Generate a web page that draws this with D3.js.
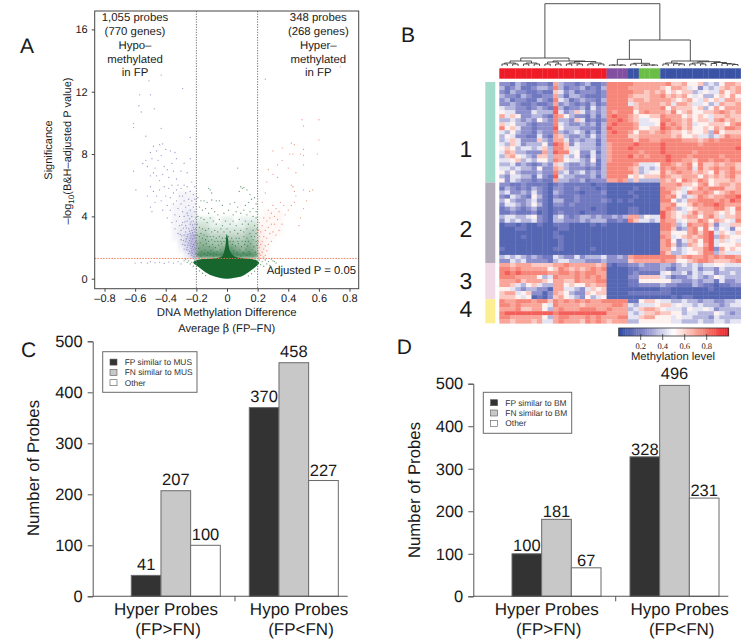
<!DOCTYPE html>
<html><head><meta charset="utf-8">
<script src="https://cdn.jsdelivr.net/npm/d3@7/dist/d3.min.js"></script>
<style>
html,body{margin:0;padding:0;background:#fff}
svg{display:block;font-family:"Liberation Sans",Arial,sans-serif;text-rendering:geometricPrecision}
text{fill:#1a1a1a}
</style></head><body>
<svg id="c" width="747" height="642"></svg>
<script>
// ---- Panel A data (x = delta beta, y = -log10 adj P)
const xTicksA=[-0.8,-0.6,-0.4,-0.2,0,0.2,0.4,0.6,0.8];
const yTicksA=[0,4,8,12,16];
const bluePts=[[-.61,9.97],[-.61,9.7],[-.57,11.8],[-.5,11.8],[-.575,11.1],[-.56,10.7],[-.51,12.7],[-.43,13.07],[-.29,12.2],[-.475,10.9],[-.43,9.65],[-.53,9.15],[-.24,9.07],[-.61,6.9],[-.595,5.7],
[-.48,8.5],[-.46,8.2],[-.44,8.6],[-.42,8.65],[-.5,8.1],[-.53,7.6],[-.52,7.2],[-.55,7.4],[-.49,7.7],[-.47,7.1],[-.45,7.6],[-.43,7.9],[-.4,8.3],[-.37,8.2],[-.34,8.1],[-.33,7.7],[-.36,7.4],[-.39,7],[-.41,7.2],[-.48,6.8],[-.5,6.6],[-.46,6.6],[-.44,6.3],[-.42,6.7],[-.38,6.5],[-.35,6.9],[-.33,6.4],[-.3,6.9],[-.28,7.4],[-.26,6.8],[-.24,7.7],[-.52,5.3],[-.5,5.9],[-.48,5.6],[-.5,4.6],[-.49,4.3],[-.47,4.9],[-.46,5.3],[-.44,5.7],[-.43,5],[-.42,4.4],[-.41,5.9],[-.4,5.3],[-.39,4.7],[-.39,3.9],[-.38,5.8],[-.37,4.4],[-.37,5.2],[-.36,3.6],[-.36,6],[-.35,4.8],[-.35,5.5],[-.34,3.2],[-.34,4.1],[-.33,5.7],[-.33,5],[-.33,3.7],[-.32,6],[-.32,4.5],[-.32,2.9],[-.31,5.3],[-.31,3.4],[-.31,4],[-.3,5.8],[-.3,4.8],[-.3,2.5],[-.3,3.1],[-.29,4.3],[-.29,5.3],[-.29,3.6],[-.29,2.2],[-.28,6],[-.28,5],[-.28,4],[-.28,2.8],[-.28,1.9],[-.27,5.5],[-.27,4.6],[-.27,3.4],[-.27,2.4],[-.27,3],[-.26,5.9],[-.26,4.2],[-.26,3.7],[-.26,2],[-.26,2.7],[-.25,5.1],[-.25,4.7],[-.25,3.2],[-.25,2.3],[-.25,1.6],[-.24,5.6],[-.24,4.4],[-.24,3.5],[-.24,2.9],[-.24,2.1],[-.24,2.6],[-.23,6.2],[-.23,5],[-.23,4],[-.23,3.1],[-.23,2.4],[-.23,1.8],[-.23,1.5],[-.22,5.4],[-.22,4.6],[-.22,3.7],[-.22,3.3],[-.22,2.8],[-.22,2.2],[-.22,1.9],[-.22,1.4],[-.21,5.9],[-.21,5.1],[-.21,4.3],[-.21,3.5],[-.21,3],[-.21,2.6],[-.21,2.3],[-.21,2],[-.21,1.7],[-.21,1.4],[-.205,4.8],[-.205,3.9],[-.205,3.2],[-.205,2.8],[-.205,2.4],[-.205,1.9],[-.205,1.6],
[-.215,3.15],[-.225,2.95],[-.235,2.75],[-.245,3.05],[-.255,2.85],[-.215,2.75],[-.225,2.55],[-.235,2.25],[-.245,2.45],[-.255,2.15],[-.265,2.55],[-.215,2.15],[-.225,2.05],[-.235,1.95],[-.245,1.75],[-.215,1.85],[-.225,1.65],[-.215,1.55],[-.235,1.65],[-.255,1.85],[-.265,1.85],[-.275,2.15],[-.285,2.45],[-.295,2.75],[-.305,2.85],[-.225,3.45],[-.235,3.65],[-.245,3.85],[-.255,4.05],[-.265,3.25],[-.275,3.65],[-.285,3.25],[-.295,3.45],
[-.6,1.0],[-.56,1.03],[-.52,1],[-.5,1.1],[-.47,1.02],[-.44,1.05],[-.41,.98],[-.38,1.07],[-.35,1],[-.32,1.1],[-.3,.95]];
const redPts=[[.74,13.6],[.25,12.8],[.49,10.2],[.5,9.8],[.6,10.2],[.6,8.9],[.42,8.7],[.44,8.6],[.36,8.4],[.5,8.3],[.3,8.2],[.41,8],[.43,8],[.48,8],[.5,7.9],[.59,8],[.36,7.6],[.33,7.3],[.27,7],[.5,7.3],[.4,7.1],[.45,6.8],[.3,6.7],[.33,6.5],[.26,6.2],[.42,6],[.43,5.9],[.44,5.6],[.45,5.3],[.56,5.7],[.54,5.6],[.5,5.7],[.52,5],[.5,4.5],[.48,3.9],[.47,3.4],[.44,4.9],[.42,4.7],[.4,4.4],[.38,4.1],[.37,4.7],[.36,3.5],[.35,4.9],[.34,4.3],[.34,3.1],[.33,3.8],[.32,4.5],[.32,2.8],[.31,3.5],[.31,4],[.3,4.7],[.3,3],[.29,4.2],[.29,3.5],[.29,2.4],[.28,3.9],[.28,2.9],[.27,4.4],[.27,3.3],[.27,2.2],[.26,3.7],[.26,2.6],[.26,1.8],[.25,5.5],[.25,3.1],[.25,2.1],[.25,1.5],[.24,3.9],[.24,2.7],[.24,1.9],[.24,1.4],[.23,4.9],[.23,3.4],[.23,2.4],[.23,1.7],[.22,3],[.22,2.2],[.22,1.5],[.21,3.6],[.21,2.7],[.21,2],[.21,1.6],[.21,1.35],[.205,3.1],[.205,2.4]];
const greenPts=[[.07,7.1],[-.12,5.8],[-.11,5.7],[-.1,5.5],[.09,5.9],[.1,5.8],[.11,5.85],[.13,5.7],[.15,5.4],[.08,5.6],[.16,5.1],[.18,5.2],[.19,4.8],[-.19,5.2],[-.17,5],[-.15,5],[-.13,4.9],[-.1,5.05],[-.07,5],[-.05,5],[-.03,4.7],[.02,4.8],[.05,4.9],[.07,4.6],[.12,4.7],[.14,4.9],[.17,4.5],[.19,4.3],[-.18,4.6],[-.16,4.4],[-.14,4.5],[-.12,4.2],[-.1,4.5],[-.08,4.3],[-.06,4.1],[-.02,4.2],[.01,4.4],[.04,4.1],[.06,4.3],[.09,4.2],[.11,4.4],[.13,4.1],[.15,4.3],[.17,4],[.19,3.9],[-.19,4],[-.17,3.9],[-.15,3.8],[-.13,3.6],[-.11,3.9],[-.09,3.7],[-.07,3.5],[-.05,3.8],[-.03,3.4],[-.01,3.7],[.02,3.5],[.04,3.7],[.06,3.4],[.08,3.8],[.1,3.5],[.12,3.7],[.14,3.5],[.16,3.7],[.18,3.4],[.195,3.2],[-.195,3.5],[-.18,3.3],[-.16,3.2],[-.14,3.1],[-.12,3.2],[-.1,3],[-.08,3.1],[-.06,3],[-.04,3.2],[-.02,3],[0,3.2],[.02,3],[.05,3.1],[.07,2.9],[.09,3.1],[.11,3],[.13,3.2],[.15,2.9],[.17,3.1],[.19,2.9],
[-.195,2.8],[-.18,2.7],[-.17,2.9],[-.16,2.6],[-.15,2.8],[-.14,2.5],[-.13,2.7],[-.12,2.4],[-.11,2.7],[-.1,2.5],[-.09,2.7],[-.08,2.4],[-.07,2.6],[-.06,2.4],[-.05,2.7],[-.04,2.4],[-.03,2.6],[-.02,2.4],[-.01,2.6],[.01,2.7],[.02,2.4],[.03,2.6],[.04,2.4],[.06,2.6],[.07,2.4],[.08,2.6],[.1,2.4],[.11,2.7],[.12,2.4],[.13,2.6],[.14,2.4],[.16,2.7],[.17,2.5],[.18,2.7],[.19,2.4],
[-.195,2.25],[-.185,1.95],[-.175,2.3],[-.165,1.75],[-.155,2.15],[-.145,1.85],[-.135,2.25],[-.125,1.7],[-.115,2.05],[-.105,1.8],[-.095,2.2],[-.085,1.65],[-.075,2],[-.065,1.75],[-.055,2.15],[-.045,1.85],[-.035,2.25],[.035,2.2],[.045,1.8],[.055,2.1],[.065,1.7],[.075,2.25],[.085,1.85],[.095,2.05],[.105,1.7],[.115,2.2],[.125,1.9],[.135,2.1],[.145,1.75],[.155,2.25],[.165,1.85],[.175,2.05],[.185,1.7],[.195,2.15],
[-.19,1.55],[-.17,1.45],[-.15,1.6],[-.13,1.5],[-.11,1.6],[-.09,1.45],[-.07,1.55],[.07,1.55],[.09,1.45],[.11,1.6],[.13,1.5],[.15,1.6],[.17,1.45],[.19,1.55],
[-.27,1.25],[-.25,1.15],[-.24,.95],[-.23,1.05],[-.22,.8],[-.21,1.2],[-.26,1.05],[-.28,1.15],[-.2,.65],[-.18,.5],[-.16,.35],[-.14,.2],[.21,1.2],[.22,.9],[.23,1.1],[.24,.8],[.25,1.2],[.26,.95],[.27,1.1],[.28,.85],[.3,1.15],[.32,1.0],[.2,.62],[.18,.48],[.16,.32],[.14,.18],[.29,1.25],[.31,1.1]];
const greenBlob=[[-.19,1.22],[-.22,1.05],[-.19,.78],[-.15,.48],[-.1,.2],[-.05,.06],[0,0],[.05,.06],[.1,.18],[.14,.42],[.18,.7],[.21,1.0],[.19,1.2],[.12,1.3],[.05,1.42],[.018,1.8],[.006,2.6],[-.002,2.85],[-.012,2.0],[-.035,1.42],[-.1,1.3]];
const greenGrid=["1110110111","2211111122","3322222233","4433333343","5544454454","6665676565","8888898887"];
const blueGrid=["00111","00111","01111","01122","01122","01123","01224","01246","00246","00136","00025"];
const redGrid=["01110","11110","11110","21110","21100","31000","31000","31000"];
// ---- Panel B data: digit d = methylation level bin, rows top to bottom, columns left to right
const heatRows=[
"22132112217322123112 8888 87 7777 786675563435776","31231123328312231213 8888 77 7777 657764524346767","21322112116423122212 8888 87 7676 756566345447567","32213211227313321112 8888 76 6677 867675453356575","23122113218431232213 8888 67 7677 776567546564776",
"22321121127232121312 8888 46 7777 674776445347667","43322123219312231423 8888 86 7777 857666563575777","54422243339423642323 8788 85 7877 768567556678767","74652233218753221313 8988 76 5566 877756565466766","33432325328332641212 8898 76 4455 887767566478676",
"64533212228432232313 8988 87 4445 978767455666578","85642212229533322213 9888 87 5566 987867556576887","43532213228323431313 8988 75 7767 876656556385666","35422114217632232423 8888 66 7777 776755644346877","34642226327742323313 8888 86 8877 888877767878888",
"43642333529862433313 7888 89 8888 988888878888888","56534434638864433323 7888 98 8888 988888888888889","47633222739884522413 7888 88 7888 988888788888888","36754326637743521423 7888 97 8788 898887888887888","44563435538754432513 7888 88 8888 898877688788788",
"33423212326432232313 8888 87 4445 887678586676776","44343325227632221213 8888 76 3434 878778486787786","53532223228342342323 8888 86 3455 867877676586787","32443314219433222313 8888 56 5666 876677757676786","52432212117332231222 7787 36 3333 767587687566676",
"22112111101211111011 0000 00 0000 777866578567767","13212132102211211101 0000 01 0000 877645687888667","34223242103211101112 0000 10 0000 886548778756787","21432153102111211111 0000 01 0000 878534687677889","35322342103311211112 1010 10 0000 885347788878798",
"24432353102212111111 0000 00 0000 778556878898777","12321231101111111011 0000 11 0000 787345677788658","11211120101211101111 0000 11 0000 976546867765657","34433452103421233232 2323 77 3544 976567757864667","24343342103322232333 1121 86 4434 877456687576548",
"01101001001110000101 0000 00 0000 887348778624466","00011000000110000000 0000 00 0000 886237858535425","00000000001000000000 0000 00 0000 775557868946546","00001000001100000000 0000 00 0000 874567678937655","00000000000100000000 0000 00 0000 785246758946454",
"00000000000100000000 0000 00 0000 786237657945556","10000000001100000100 0000 00 0000 775345668927565","00000000000000000000 0000 00 0000 863345568836444","34343232114322423334 2232 78 8888 888678778787887","22434222213443332223 2222 67 7777 877556788766678",
"77677766667787777767 1011 22 3222 332343434455444","88787777756876767878 0000 11 2222 321333423324333","89898888877887878877 0000 12 1111 453342434423343","88877775348777878787 0000 22 6666 431223432354333","77786777657766877788 0000 11 5555 553322323314223",
"77643564337756557677 0000 11 2222 322111321101122","55432332207744324656 0000 00 0000 110000000100000","67745622027653226566 0000 11 1111 110000000000000","66654501026754325345 0000 00 0000 001011000000000",
"87788878868787878778 8888 11 5665 443343323322334","88787777548777767777 7887 43 4445 664544343332344","77786677537877788877 8777 34 6776 544435445423333","89999999998999999999 7777 43 4667 665534433354323","88777777537887778787 7788 44 6775 554544333243333","77677767447877768787 6777 33 5555 554433343344344"];
const levelBins=[.1,.17,.25,.34,.44,.53,.62,.7,.77,.85];
const colGroupCounts=[20,4,2,4,15];
const rowClusterCounts=[25,20,9,6];
const rowClusterNames=["1","2","3","4"];
const dendro=[62.3,
 [8,[5,[3,[2,0,1],[2,2,3]],[3,[2,4,5],[2,6,7]]],[5,[4,[2,8,9],[2,10,11]],[4.5,[3,[2,12,13],[2,14,15]],[3,[2,16,17],[2,18,19]]]]],
 [26,[6.7,[1,[1,20,21],[1,22,23]],[2.7,[2,24,25],[1,[1,26,27],[1,28,29]]]],
  [5,[3,[2,30,31],[2.3,32,[2,33,34]]],[4.3,[3,[2,35,36],[2,37,38]],[3.5,[2.5,39,40],[2.5,41,[2,42,[1.5,43,44]]]]]]]];
const colorbarTicks=[0.2,0.4,0.6,0.8];
// ---- Panels C, D data
const groupNames=["Hyper Probes","Hypo Probes"];
const groupSubs=["(FP>FN)","(FP<FN)"];
const mus=[[41,207,100],[370,458,227]];
const bm=[[100,181,67],[328,496,231]];
const legendC=["FP similar to MUS","FN similar to MUS","Other"];
const legendD=["FP similar to BM","FN similar to BM","Other"];
const barTicks=[0,100,200,300,400,500];

const svg=d3.select("#c");
const defs=svg.append("defs");
defs.append("filter").attr("id","soft").attr("x","-10%").attr("y","-10%").attr("width","120%").attr("height","120%").append("feGaussianBlur").attr("stdDeviation",1.6);
defs.append("filter").attr("id","img").append("feGaussianBlur").attr("stdDeviation",0.45);
const t=(x,y,s,size,anchor)=>svg.append("text").attr("x",x).attr("y",y).attr("font-size",size).attr("text-anchor",anchor||"start").text(s);
const DASH="\u2013";

// ---------- Panel letters
[["A",20,53],["B",401,41.7],["C",21,356.7],["D",396.7,354.3]].forEach(d=>t(d[1],d[2],d[0],21));

// ---------- Panel A
const xA=d3.scaleLinear().domain([-0.8,0.8]).range([104.5,349.5]);
const yA=d3.scaleLinear().domain([0,16]).range([278.7,29.4]);
const A=svg.append("g");
const box={l:94.7,r:358.7,t:11,b:288.7};
function grid(rows,x0,dx,y0top,dy,color,k){
  const g=A.append("g").attr("filter","url(#soft)");
  rows.forEach((r,i)=>r.split("").forEach((c,j)=>{
    if(+c>0) g.append("rect").attr("x",xA(x0+j*dx)).attr("width",xA(dx)-xA(0)+.2)
      .attr("y",yA(y0top-i*dy)).attr("height",yA(0)-yA(dy)+.2).attr("fill",color).attr("opacity",+c*k);
  }));
}
grid(greenGrid,-0.2,0.04,4.0,0.38,"#1d6a35",0.095);
grid(blueGrid,-0.4,0.04,5.6,0.39,"#5d5bab",0.065);
grid(redGrid,0.2,0.04,4.4,0.39,"#ee7055",0.05);
A.append("path").attr("d",d3.line().x(d=>xA(d[0])).y(d=>yA(d[1])).curve(d3.curveCatmullRomClosed)(greenBlob)).attr("fill","#12662f").attr("filter","url(#img)");
const pts=(data,color,op)=>A.append("g").selectAll("circle").data(data).join("circle").attr("cx",d=>xA(d[0])).attr("cy",d=>yA(d[1])).attr("r",0.65).attr("fill",color).attr("opacity",op);
pts(bluePts,"#6461ae",.65);pts(redPts,"#ee6a4c",.7);pts(greenPts,"#256f3c",.7);
[-0.2,0.2].forEach(v=>A.append("line").attr("x1",xA(v)).attr("x2",xA(v)).attr("y1",box.t).attr("y2",box.b).attr("stroke","#777").attr("stroke-width",1).attr("stroke-dasharray","1.3 1.3"));
A.append("line").attr("x1",box.l).attr("x2",box.r).attr("y1",yA(1.3)).attr("y2",yA(1.3)).attr("stroke","#f0704f").attr("stroke-width",.9).attr("stroke-dasharray","1.5 1.3");
A.append("rect").attr("x",box.l).attr("y",box.t).attr("width",box.r-box.l).attr("height",box.b-box.t).attr("fill","none").attr("stroke","#444").attr("stroke-width",1);
const axB=A.append("g").attr("transform",`translate(0,${box.b})`).call(d3.axisBottom(xA).tickValues(xTicksA).tickSize(3).tickPadding(3).tickFormat(d=>d===0?"0":(d<0?DASH:"")+d3.format(".1f")(Math.abs(d))));
const axL=A.append("g").attr("transform",`translate(${box.l},0)`).call(d3.axisLeft(yA).tickValues(yTicksA).tickSize(3).tickPadding(4));
[axB,axL].forEach(g=>{g.select(".domain").remove();g.selectAll("text").attr("font-size",11).style("font-family","inherit");g.selectAll("line").attr("stroke","#444");});
[["1,055 probes",20.7],["(770 genes)",35],["Hypo"+DASH,48.7],["methylated",63.3],["in FP",76.3]].forEach(d=>t(135,d[1],d[0],11.4,"middle"));
[["348 probes",20.7],["(268 genes)",35],["Hyper"+DASH,48.7],["methylated",63.3],["in FP",76.3]].forEach(d=>t(318.3,d[1],d[0],11.4,"middle"));
t(356,273.7,"Adjusted P = 0.05",11.3,"end");
t(226.7,315.7,"DNA Methylation Difference",11.4,"middle");
const avg=t(226.7,332,"Average ",11.2,"middle");
avg.append("tspan").attr("font-family","'DejaVu Serif',serif").text("\u03b2");avg.append("tspan").text(" (FP"+DASH+"FN)");
svg.append("text").attr("transform","translate(52,150) rotate(-90)").attr("text-anchor","middle").attr("font-size",11).text("Significance");
const ll=svg.append("text").attr("transform","translate(71,151) rotate(-90)").attr("text-anchor","middle").attr("font-size",11);
ll.append("tspan").text(DASH+"log");ll.append("tspan").attr("font-size",8).attr("dy",2.5).text("10");ll.append("tspan").attr("dy",-2.5).text("(B&H"+DASH+"adjusted P value)");

// ---------- Panel B
const H={l:499.3,r:740.7,t:82,b:323.3};
const matrix=heatRows.map(r=>r.replace(/ /g,"").split("").map(Number));
const nCol=d3.sum(colGroupCounts),nRow=matrix.length;
const xH=d3.scaleLinear().domain([0,nCol]).range([H.l,H.r]);
const yH=d3.scaleLinear().domain([0,nRow]).range([H.t,H.b]);
const cmap=d3.scaleLinear().domain([0,.25,.5,.75,1]).range(["#2f4aa2","#8d8fcc","#ffffff","#f78f80","#ee1c25"]);
const hm=svg.append("g").attr("filter","url(#img)");
matrix.forEach((row,i)=>row.forEach((v,j)=>hm.append("rect").attr("x",xH(j)).attr("y",yH(i)).attr("width",xH(1)-xH(0)+.3).attr("height",yH(1)-yH(0)+.3).attr("fill",cmap(levelBins[v]))));
// column bar
const colColors=["#ee1c25","#8350a0","#3a52a5","#6abd45","#3a52a5"];
let c0=0;const cb=svg.append("g").attr("filter","url(#img)");
colGroupCounts.forEach((n,g)=>{d3.range(c0,c0+n).forEach(j=>cb.append("rect").attr("x",xH(j)).attr("y",68.3).attr("width",xH(1)-xH(0)+.2).attr("height",10.4).attr("fill",colColors[g]));c0+=n;});
// row bar
const rowColors=["#a3dccb","#b3adbb","#f2d9e6","#fbef92"];
const numBase=[157,236.7,289.3,316.7];
let r0=0;rowClusterCounts.forEach((n,g)=>{
  svg.append("rect").attr("x",485.3).attr("width",10).attr("y",yH(r0)).attr("height",yH(n)-yH(0)).attr("fill",rowColors[g]);
  t(466,numBase[g],rowClusterNames[g],23,"middle");r0+=n;});
// dendrogram
const yD=d3.scaleLinear().domain([0,62.3]).range([66,3.7]);
const dg=svg.append("g").attr("fill","none").attr("stroke","#3d3d3d").attr("stroke-width",.9);
function draw(n){
  if(typeof n==="number") return {x:xH(n+.5),h:0};
  const a=draw(n[1]),b=draw(n[2]);
  dg.append("path").attr("d",`M${a.x},${yD(a.h)}V${yD(n[0])}H${b.x}V${yD(b.h)}`);
  return {x:(a.x+b.x)/2,h:n[0]};
}
draw(dendro);
// colour bar
const xC=d3.scaleLinear().domain([0,1]).range([618.7,728.7]);
const cbar=svg.append("g");
d3.range(0,1,0.02).forEach(v=>cbar.append("rect").attr("x",xC(v)).attr("y",328).attr("width",xC(0.02)-xC(0)+.3).attr("height",8).attr("fill",cmap(v+.01)));
cbar.append("rect").attr("x",xC(0)).attr("y",328).attr("width",xC(1)-xC(0)).attr("height",8).attr("fill","none").attr("stroke","#333").attr("stroke-width",.8);
colorbarTicks.forEach(v=>{
  cbar.append("line").attr("x1",xC(v)).attr("x2",xC(v)).attr("y1",334).attr("y2",340).attr("stroke","#333").attr("stroke-width",.8);
  cbar.append("text").attr("x",xC(v)).attr("y",349).attr("text-anchor","middle").attr("font-size",8.5).attr("font-family","'Liberation Serif',serif").text(v);
});
t(673,360,"Methylation level",11.3,"middle");

// ---------- Panels C, D
function barPanel(o){
  const g=svg.append("g");
  const y=d3.scaleLinear().domain([0,500]).range([596.3,o.top]);
  const fills=["#333333","#c8c8c8","#ffffff"];
  o.data.forEach((vals,gi)=>vals.forEach((v,i)=>{
    const x0=o.starts[gi]+i*o.w;
    g.append("rect").attr("x",x0).attr("y",y(v)).attr("width",o.w).attr("height",y(0)-y(v)).attr("fill",fills[i]).attr("stroke","#6a6a6a").attr("stroke-width",1);
    t(x0+o.w/2,y(v)-o.gaps[gi][i],v,16.5,"middle");
  }));
  const ax=g.append("g").attr("transform",`translate(${o.axis},0)`).call(d3.axisLeft(y).tickValues(barTicks).tickSize(5).tickPadding(5));
  ax.selectAll("text").attr("font-size",16.5).style("font-family","inherit");
  ax.selectAll("line,path").attr("stroke","#555");
  g.append("line").attr("x1",o.axis).attr("x2",o.end).attr("y1",y(0)).attr("y2",y(0)).attr("stroke","#555").attr("stroke-width",1.1);
  g.append("line").attr("x1",o.sep).attr("x2",o.sep).attr("y1",y(0)).attr("y2",y(0)+5).attr("stroke","#555");
  groupNames.forEach((s,i)=>{t(o.labelX[i],615,s,17,"middle");t(o.labelX[i]+2,635,groupSubs[i],17,"middle");});
  svg.append("text").attr("transform",`translate(${o.ylabX},${o.ylabY}) rotate(-90)`).attr("text-anchor","middle").attr("font-size",16.8).text("Number of Probes");
  g.append("rect").attr("x",o.leg[0]).attr("y",o.leg[1]).attr("width",o.leg[2]).attr("height",o.leg[3]).attr("fill","#fff").attr("stroke","#6a6a6a").attr("stroke-width",1);
  o.legend.forEach((s,i)=>{
    const yy=o.leg[1]+10.4+i*10.3;
    g.append("rect").attr("x",o.leg[0]+7.3).attr("y",yy-3).attr("width",7).attr("height",6).attr("fill",fills[i]).attr("stroke","#555").attr("stroke-width",.6);
    t(o.leg[0]+22,yy+3,s,8.4).style("fill","#333");
  });
}
barPanel({data:mus,top:341.3,axis:92.7,end:347.7,sep:235,w:29.67,starts:[131.3,249.3],gaps:[[5.5,5.5,5.5],[5.5,5.5,5]],labelX:[166,299],ylabX:39,ylabY:468,leg:[102.7,351.7,94.3,40.6],legend:legendC});
barPanel({data:bm,top:383.7,axis:473.3,end:728.3,sep:615.7,w:29.67,starts:[512,630],gaps:[[2.5,2,2],[2,6,2.5]],labelX:[546.7,679.7],ylabX:420,ylabY:490,leg:[483.3,392.3,88.4,41],legend:legendD});
</script>
</body></html>
